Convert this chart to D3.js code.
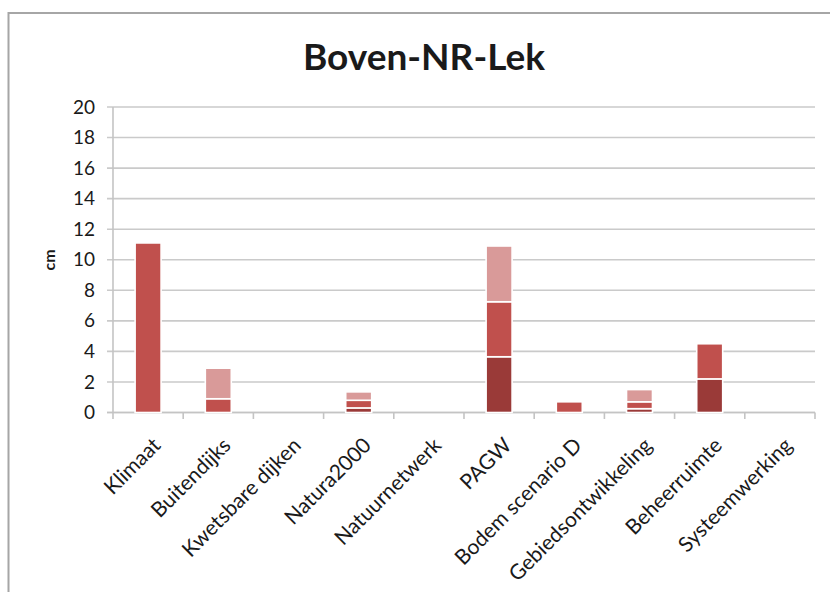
<!DOCTYPE html>
<html>
<head>
<meta charset="utf-8">
<script src="https://cdn.jsdelivr.net/npm/d3@7/dist/d3.min.js"></script>
<style>
  html, body { margin: 0; padding: 0; background: #fff; }
  svg { display: block; }
  text { font-family: Lato, "Open Sans", sans-serif; fill: #1a1a1a; }
</style>
</head>
<body>
<svg id="chart" width="830" height="592"></svg>
<script>
// Categories along the x axis
const categories = [
  "Klimaat", "Buitendijks", "Kwetsbare dijken", "Natura2000", "Natuurnetwerk",
  "PAGW", "Bodem scenario D", "Gebiedsontwikkeling", "Beheerruimte", "Systeemwerking"
];
// Stacked series (cm), bottom to top
const seriesDark   = [0,    0,   0, 0.3,  0, 3.65, 0,   0.25, 2.2, 0];
const seriesMedium = [11.1, 0.9, 0, 0.5,  0, 3.6,  0.7, 0.45, 2.3, 0];
const seriesLight  = [0,    2.0, 0, 0.55, 0, 3.65, 0,   0.8,  0,   0];
// Value axis ticks
const yTicks = [0, 2, 4, 6, 8, 10, 12, 14, 16, 18, 20];

const chartTitle = "Boven-NR-Lek";
const yTitle = "cm";

const keys = ["dark", "medium", "light"];
const colors = { dark: "#9a3a38", medium: "#c0504d", light: "#d99a99" };

const rows = categories.map((c, i) => ({
  category: c, dark: seriesDark[i], medium: seriesMedium[i], light: seriesLight[i]
}));

const svg = d3.select("#chart");

// Chart frame
svg.append("rect")
  .attr("x", 8.5).attr("y", 13)
  .attr("width", 840).attr("height", 600)
  .attr("fill", "#fff")
  .attr("stroke", "#a6a6a6").attr("stroke-width", 2);

const x = d3.scaleBand().domain(categories).range([113, 815]).padding(0);
const y = d3.scaleLinear().domain([0, 20]).range([412.5, 107]);

// Horizontal gridlines with outer ticks
svg.append("g").selectAll("line").data(yTicks).join("line")
  .attr("x1", 107).attr("x2", 815)
  .attr("y1", d => y(d)).attr("y2", d => y(d))
  .attr("stroke", "#cacaca").attr("stroke-width", 1.6);

// Y axis labels
const yAxis = d3.axisLeft(y).tickValues(yTicks).tickSize(0).tickPadding(12);
const gy = svg.append("g").attr("transform", "translate(107,0)").call(yAxis);
gy.select(".domain").remove();
gy.selectAll("text")
  .style("font-family", "Lato, sans-serif")
  .style("font-size", "19px")
  .attr("fill", "#333");

// Vertical axis line
svg.append("line")
  .attr("x1", 113).attr("x2", 113).attr("y1", 107).attr("y2", 412.5)
  .attr("stroke", "#c4c4c4").attr("stroke-width", 1.6);

// X axis line and category boundary ticks
const boundaries = categories.map(c => x(c)).concat([x.range()[1]]);
svg.append("line")
  .attr("x1", 107).attr("x2", 815).attr("y1", 412.5).attr("y2", 412.5)
  .attr("stroke", "#c4c4c4").attr("stroke-width", 1.6);
svg.append("g").selectAll("line").data(boundaries).join("line")
  .attr("x1", d => d).attr("x2", d => d)
  .attr("y1", 412.5).attr("y2", 419)
  .attr("stroke", "#c4c4c4").attr("stroke-width", 1.6);

// Stacked bars
const stacked = d3.stack().keys(keys)(rows);
const barW = x.bandwidth() * 0.37;
svg.append("g").selectAll("g").data(stacked).join("g")
  .attr("fill", d => colors[d.key])
  .selectAll("rect").data(d => d.filter(s => s[1] - s[0] > 0)).join("rect")
  .attr("x", d => x(d.data.category) + (x.bandwidth() - barW) / 2)
  .attr("width", barW)
  .attr("y", d => y(d[1]))
  .attr("height", d => y(d[0]) - y(d[1]))
  .attr("stroke", "#fff").attr("stroke-width", 1.6);

// Rotated category labels
svg.append("g").selectAll("text").data(categories).join("text")
  .attr("transform", d => `translate(${x(d) + x.bandwidth() / 2 + 3},436) rotate(-45)`)
  .attr("text-anchor", "end")
  .attr("dy", "0.72em")
  .style("font-size", "21px")
  .text(d => d);

// Axis title
svg.append("text")
  .attr("transform", "translate(55,260) rotate(-90)")
  .attr("text-anchor", "middle")
  .style("font-size", "16px").style("font-weight", "700")
  .text(yTitle);

// Chart title
svg.append("text")
  .attr("x", 424).attr("y", 70)
  .attr("text-anchor", "middle")
  .style("font-size", "37px").style("font-weight", "700")
  .attr("fill", "#000")
  .text(chartTitle);
</script>
</body>
</html>
